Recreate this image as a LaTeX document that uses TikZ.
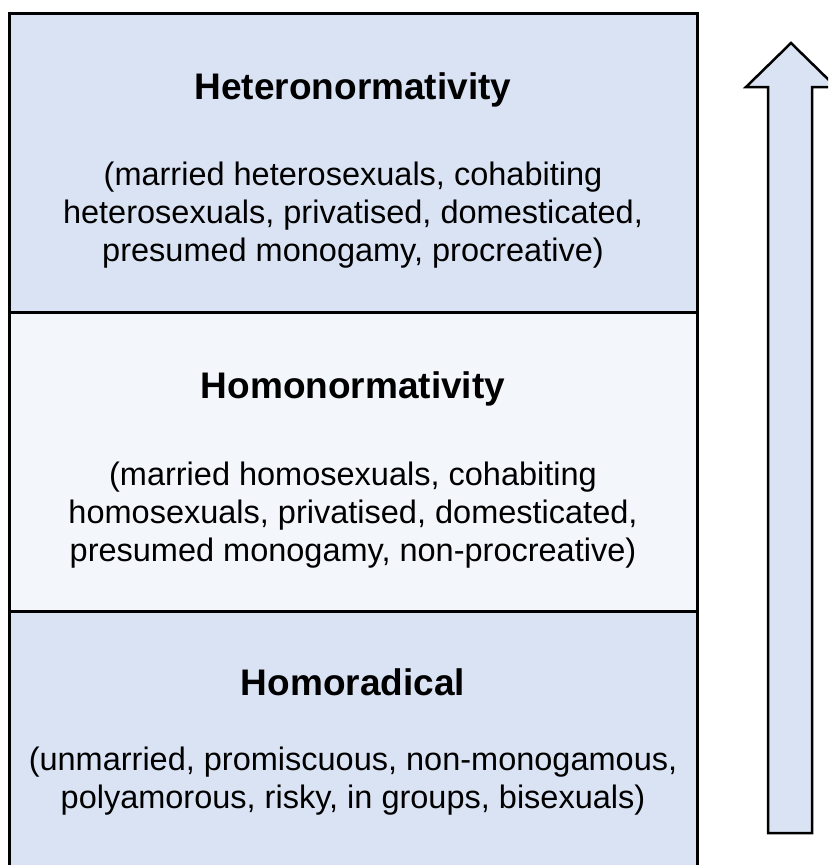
\documentclass[tikz,border=0pt]{standalone}
\usepackage{fontspec}
\setmainfont{Liberation Sans}
\definecolor{tierdark}{HTML}{DAE3F3}
\definecolor{tierlight}{HTML}{F3F6FB}
\tikzset{
  tier/.style={draw=black, line width=3pt},
  tiertitle/.style={font=\fontsize{37}{41}\bfseries\selectfont, anchor=base, inner sep=0pt},
  tierbody/.style={font=\fontsize{32.5}{38}\selectfont, align=center, anchor=north, inner sep=0pt},
  risearrow/.style={draw=black, line width=2.5pt, fill=tierdark, line join=miter}
}
\begin{document}
\begin{tikzpicture}[x=1pt,y=-1pt]
  \useasboundingbox (0,0) rectangle (828,865);
  \clip (0,0) rectangle (828,865);
  % three stacked tiers
  \path[tier, fill=tierdark]  (9,13)  rectangle (697,312);
  \path[tier, fill=tierlight] (9,312) rectangle (697,611);
  \path[tier, fill=tierdark]  (9,611) rectangle (697,900);
  % upward arrow beside the tiers
  \path[risearrow] (791,43) -- (746,87) -- (768,87) -- (768,833) -- (812,833) -- (812,87) -- (836,87) -- cycle;
  % tier texts
  \node[tiertitle] (t1) at (353,99) {Heteronormativity};
  \node[tierbody] (b1) at (353,162) {(married heterosexuals, cohabiting\\heterosexuals, privatised, domesticated,\\presumed monogamy, procreative)};
  \node[tiertitle] (t2) at (353,398) {Homonormativity};
  \node[tierbody] (b2) at (353,462) {(married homosexuals, cohabiting\\homosexuals, privatised, domesticated,\\presumed monogamy, non-procreative)};
  \node[tiertitle] (t3) at (353,695) {Homoradical};
  \node[tierbody] (b3) at (353,747) {(unmarried, promiscuous, non-monogamous,\\polyamorous, risky, in groups, bisexuals)};
\end{tikzpicture}
\end{document}
